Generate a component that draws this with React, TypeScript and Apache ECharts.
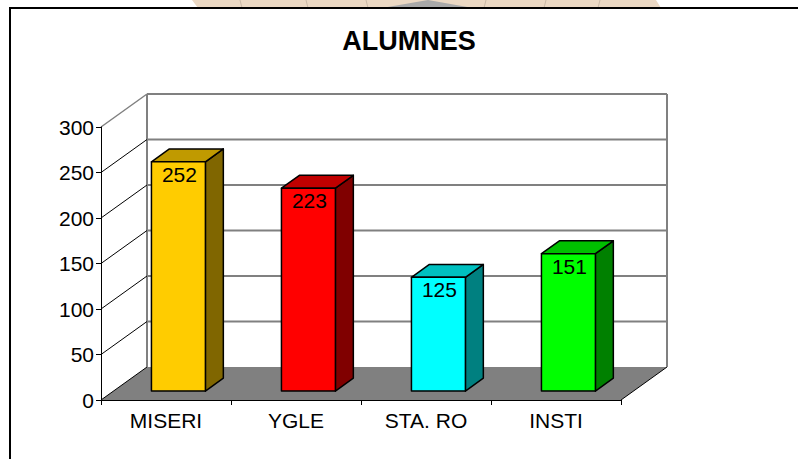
import React, { useEffect, useRef } from "react";
import * as echarts from "echarts";

const categories = ["MISERI", "YGLE", "STA. RO", "INSTI"];
const values = [252, 223, 125, 151];
const frontColors = ["#FFCC00", "#FF0000", "#00FFFF", "#00FF00"];
const topColors = ["#C09A00", "#C00000", "#00C0C0", "#00C000"];
const sideColors = ["#806600", "#800000", "#008080", "#008000"];
const yTicks = [0, 50, 100, 150, 200, 250, 300];
const chartTitle = "ALUMNES";

const FONT = '"Liberation Sans", Arial, Helvetica, sans-serif';
const DX = 46;
const DY = 33;
const FRONT = 0.27;
const BACK = 0.66;
const BAR_W = 0.415;

export default function App() {
  const ref = useRef<HTMLDivElement>(null);
  useEffect(() => {
    if (!ref.current) return;
    const chart = echarts.init(ref.current, null, { renderer: "svg" });

    const wallItem = (params: any, api: any) => {
      const cs = params.coordSys;
      const v = api.value(1);
      const y = api.coord([0, v])[1];
      const L = cs.x;
      const R = cs.x + cs.width;
      const children: any[] = [];
      if (v === 0) {
        children.push({
          type: "polygon",
          shape: { points: [[L, y], [R, y], [R + DX, y - DY], [L + DX, y - DY]] },
          style: { fill: "#808080", stroke: null },
        });
        children.push({
          type: "line",
          shape: { x1: L, y1: y, x2: L + DX, y2: y - DY },
          style: { stroke: "#000", lineWidth: 1 },
        });
        children.push({
          type: "line",
          shape: { x1: R, y1: y, x2: R + DX, y2: y - DY },
          style: { stroke: "#000", lineWidth: 1 },
        });
        children.push({
          type: "line",
          shape: { x1: L + DX, y1: y - DY, x2: L + DX, y2: cs.y - DY },
          style: { stroke: "#808080", lineWidth: 2 },
        });
        children.push({
          type: "line",
          shape: { x1: R + DX, y1: y - DY, x2: R + DX, y2: cs.y - DY },
          style: { stroke: "#808080", lineWidth: 2 },
        });
      } else {
        const isTop = y <= cs.y + 0.5;
        children.push({
          type: "line",
          shape: { x1: L + DX, y1: y - DY, x2: R + DX, y2: y - DY },
          style: { stroke: "#808080", lineWidth: 2 },
        });
        children.push({
          type: "line",
          shape: { x1: L, y1: y, x2: L + DX, y2: y - DY },
          style: { stroke: isTop ? "#808080" : "#000", lineWidth: isTop ? 1.5 : 1 },
        });
      }
      return { type: "group", children };
    };

    const barItem = (params: any, api: any) => {
      const i = api.value(0);
      const v = api.value(1);
      const top = api.coord([i, v]);
      const base = api.coord([i, 0]);
      const band = api.size([1, 0])[0];
      const w = band * BAR_W;
      const x0 = base[0] + FRONT * DX - w / 2;
      const x1 = x0 + w;
      const yb = base[1] - FRONT * DY;
      const yt = top[1] - FRONT * DY;
      const ddx = (BACK - FRONT) * DX;
      const ddy = (BACK - FRONT) * DY;
      const idx = params.dataIndex;
      const stroke = { stroke: "#000", lineWidth: 1.5, lineJoin: "round" };
      return {
        type: "group",
        children: [
          {
            type: "polygon",
            shape: { points: [[x1, yt], [x1 + ddx, yt - ddy], [x1 + ddx, yb - ddy], [x1, yb]] },
            style: { fill: sideColors[idx], ...stroke },
          },
          {
            type: "polygon",
            shape: { points: [[x0, yt], [x1, yt], [x1 + ddx, yt - ddy], [x0 + ddx, yt - ddy]] },
            style: { fill: topColors[idx], ...stroke },
          },
          {
            type: "rect",
            shape: { x: x0, y: yt, width: w, height: yb - yt },
            style: { fill: frontColors[idx], ...stroke },
          },
          {
            type: "text",
            x: (x0 + x1) / 2 + 1,
            y: yt + 2,
            style: {
              text: String(v),
              fill: "#000",
              fontSize: 21,
              fontFamily: FONT,
              align: "center",
              verticalAlign: "top",
              textAlign: "center",
              textVerticalAlign: "top",
            },
          },
        ],
      };
    };

    chart.setOption({
      animation: false,
      backgroundColor: "#fff",
      grid: { left: 101, top: 127, width: 520, height: 273 },
      xAxis: {
        type: "category",
        data: categories,
        z: 5,
        axisLine: { show: true, lineStyle: { color: "#000", width: 1 } },
        axisTick: { show: true, length: 5, lineStyle: { color: "#000" } },
        axisLabel: { fontSize: 21, fontFamily: FONT, color: "#000", margin: 10 },
        splitLine: { show: false },
      },
      yAxis: {
        type: "value",
        min: 0,
        max: 300,
        interval: 50,
        z: 5,
        axisLine: { show: true, lineStyle: { color: "#000", width: 1 } },
        axisTick: { show: true, length: 5, lineStyle: { color: "#000" } },
        axisLabel: { fontSize: 21, fontFamily: FONT, color: "#000", margin: 7 },
        splitLine: { show: false },
      },
      graphic: [
        {
          type: "polygon",
          z: 0,
          shape: { points: [[192, 0], [656, 0], [661, 8], [198, 8]] },
          style: { fill: "#EBD8C3" },
        },
        {
          type: "polygon",
          z: 1,
          shape: { points: [[382, 8], [428, 0], [473, 8]] },
          style: { fill: "#A9A9A9" },
        },
        ...[240, 306, 366, 486, 546, 600].map((x) => ({
          type: "line",
          z: 1,
          shape: { x1: x, y1: 0, x2: x + (x < 428 ? 2 : -2), y2: 8 },
          style: { stroke: "#C9B8A6", lineWidth: 1 },
        })),
        {
          type: "rect",
          z: 10,
          shape: { x: 10, y: 8, width: 900, height: 600 },
          style: { fill: null, stroke: "#000", lineWidth: 2 },
        },
        {
          type: "text",
          z: 10,
          x: 409,
          y: 41,
          style: {
            text: chartTitle,
            fill: "#000",
            fontSize: 27,
            fontWeight: "bold",
            fontFamily: FONT,
            align: "center",
            verticalAlign: "middle",
            textAlign: "center",
            textVerticalAlign: "middle",
          },
        },
      ],
      series: [
        {
          type: "custom",
          name: "walls",
          z: 1,
          silent: true,
          data: yTicks.map((v) => [0, v]),
          encode: { x: 0, y: 1 },
          renderItem: wallItem,
        },
        {
          type: "custom",
          name: "bars",
          z: 3,
          data: values.map((v, i) => [i, v]),
          encode: { x: 0, y: 1 },
          renderItem: barItem,
        },
      ],
    });
    return () => chart.dispose();
  }, []);
  return (
    <div
      ref={ref}
      style={{ position: "fixed", left: 0, top: 0, width: 798, height: 459 }}
    />
  );
}
